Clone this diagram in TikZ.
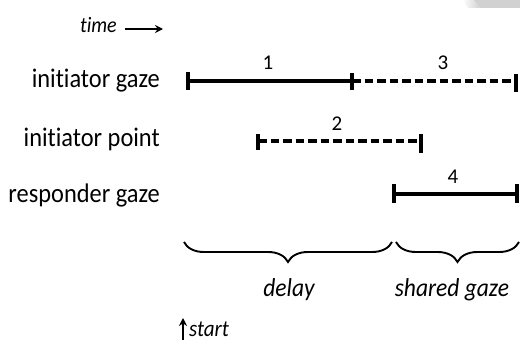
\documentclass[tikz,border=0pt]{standalone}
\usepackage{fontspec}
\setmainfont{Carlito}[Ligatures=NoCommon]
\usetikzlibrary{decorations.pathreplacing,arrows.meta}
\newcommand{\tallA}[1]{\scalebox{1}[1.1]{#1}}
\begin{document}
\begin{tikzpicture}[x=1pt,y=-1pt,
  lbl/.style={anchor=base east,inner sep=0pt,font=\fontsize{24.4}{27}\selectfont},
  num/.style={anchor=base,inner sep=0pt,font=\fontsize{21}{24}\selectfont},
  itl/.style={anchor=base,inner sep=0pt,font=\fontsize{23.5}{26}\selectfont\itshape},
  bar/.style={line width=4.4pt},
  dbar/.style={line width=4.4pt,dash pattern=on 8.5pt off 4pt},
  tick/.style={line width=3.4pt},
  brc/.style={line width=1.9pt,decorate,decoration={brace,mirror,amplitude=20pt,aspect=0.5}},
  arr/.style={line width=1.8pt,-{Stealth[length=8pt,width=8pt]}}]
\useasboundingbox (0,0) rectangle (520,342);
\fill[white] (0,0) rectangle (520,342);
% grey artifact top right
\shade[left color=white,right color=black!18] (462,0) -- (474,0) -- (480,8) -- (468,8) -- cycle;
\fill[black!18] (474,0) -- (520,0) -- (520,8) -- (480,8) -- cycle;

% labels
\node[inner sep=0pt,anchor=base east,font=\fontsize{20}{23}\selectfont\itshape] (time) at (117,33) {\tallA{time}};
\node[lbl] (ig) at (160,88) {\tallA{initiator gaze}};
\node[lbl] (ip) at (160,147) {\tallA{initiator point}};
\node[lbl] (rg) at (160,203) {\tallA{responder gaze}};

% time arrow
\coordinate (ta) at (125,29);
\coordinate (tb) at (163,29);
\draw[arr] (ta) -- (tb);

% initiator gaze
\coordinate (g0) at (188,81);
\coordinate (g1) at (352,81);
\coordinate (g2) at (516,81);
\draw[bar] (g0) -- (g1);
\draw[dbar] (g1) -- (g2);
\draw[tick] (188,72) -- (188,90);
\draw[tick] (352,73) -- (352,90);
\draw[tick] (516,74) -- (516,92);
\node[num] (n1) at (268,70) {1};
\node[num] (n3) at (443,70) {3};

% initiator point
\coordinate (p0) at (258,141);
\coordinate (p1) at (421,141);
\draw[dbar] (p0) -- (p1);
\draw[tick] (258,134) -- (258,150);
\draw[tick] (421,134) -- (421,153);
\node[num] (n2) at (337,131) {2};

% responder gaze
\coordinate (r0) at (394,194);
\coordinate (r1) at (517,194);
\draw[bar] (r0) -- (r1);
\draw[tick] (394,184) -- (394,203);
\draw[tick] (517,184) -- (517,203);
\node[num] (n4) at (453,184) {4};

% braces
\coordinate (b0) at (184,242);
\coordinate (b1) at (392,242);
\coordinate (c0) at (396,242);
\coordinate (c1) at (519,242);
\draw[brc] (b0) -- (b1);
\draw[brc] (c0) -- (c1);
\node[itl] (delay) at (289,296) {\tallA{delay}};
\node[itl] (shared) at (452,296) {\tallA{shared gaze}};

% start
\coordinate (s0) at (183,340);
\coordinate (s1) at (183,318);
\draw[arr] (s0) -- (s1);
\node[inner sep=0pt,anchor=base west,font=\fontsize{21}{24}\selectfont\itshape] (start) at (189,336) {\tallA{start}};
\end{tikzpicture}
\end{document}
